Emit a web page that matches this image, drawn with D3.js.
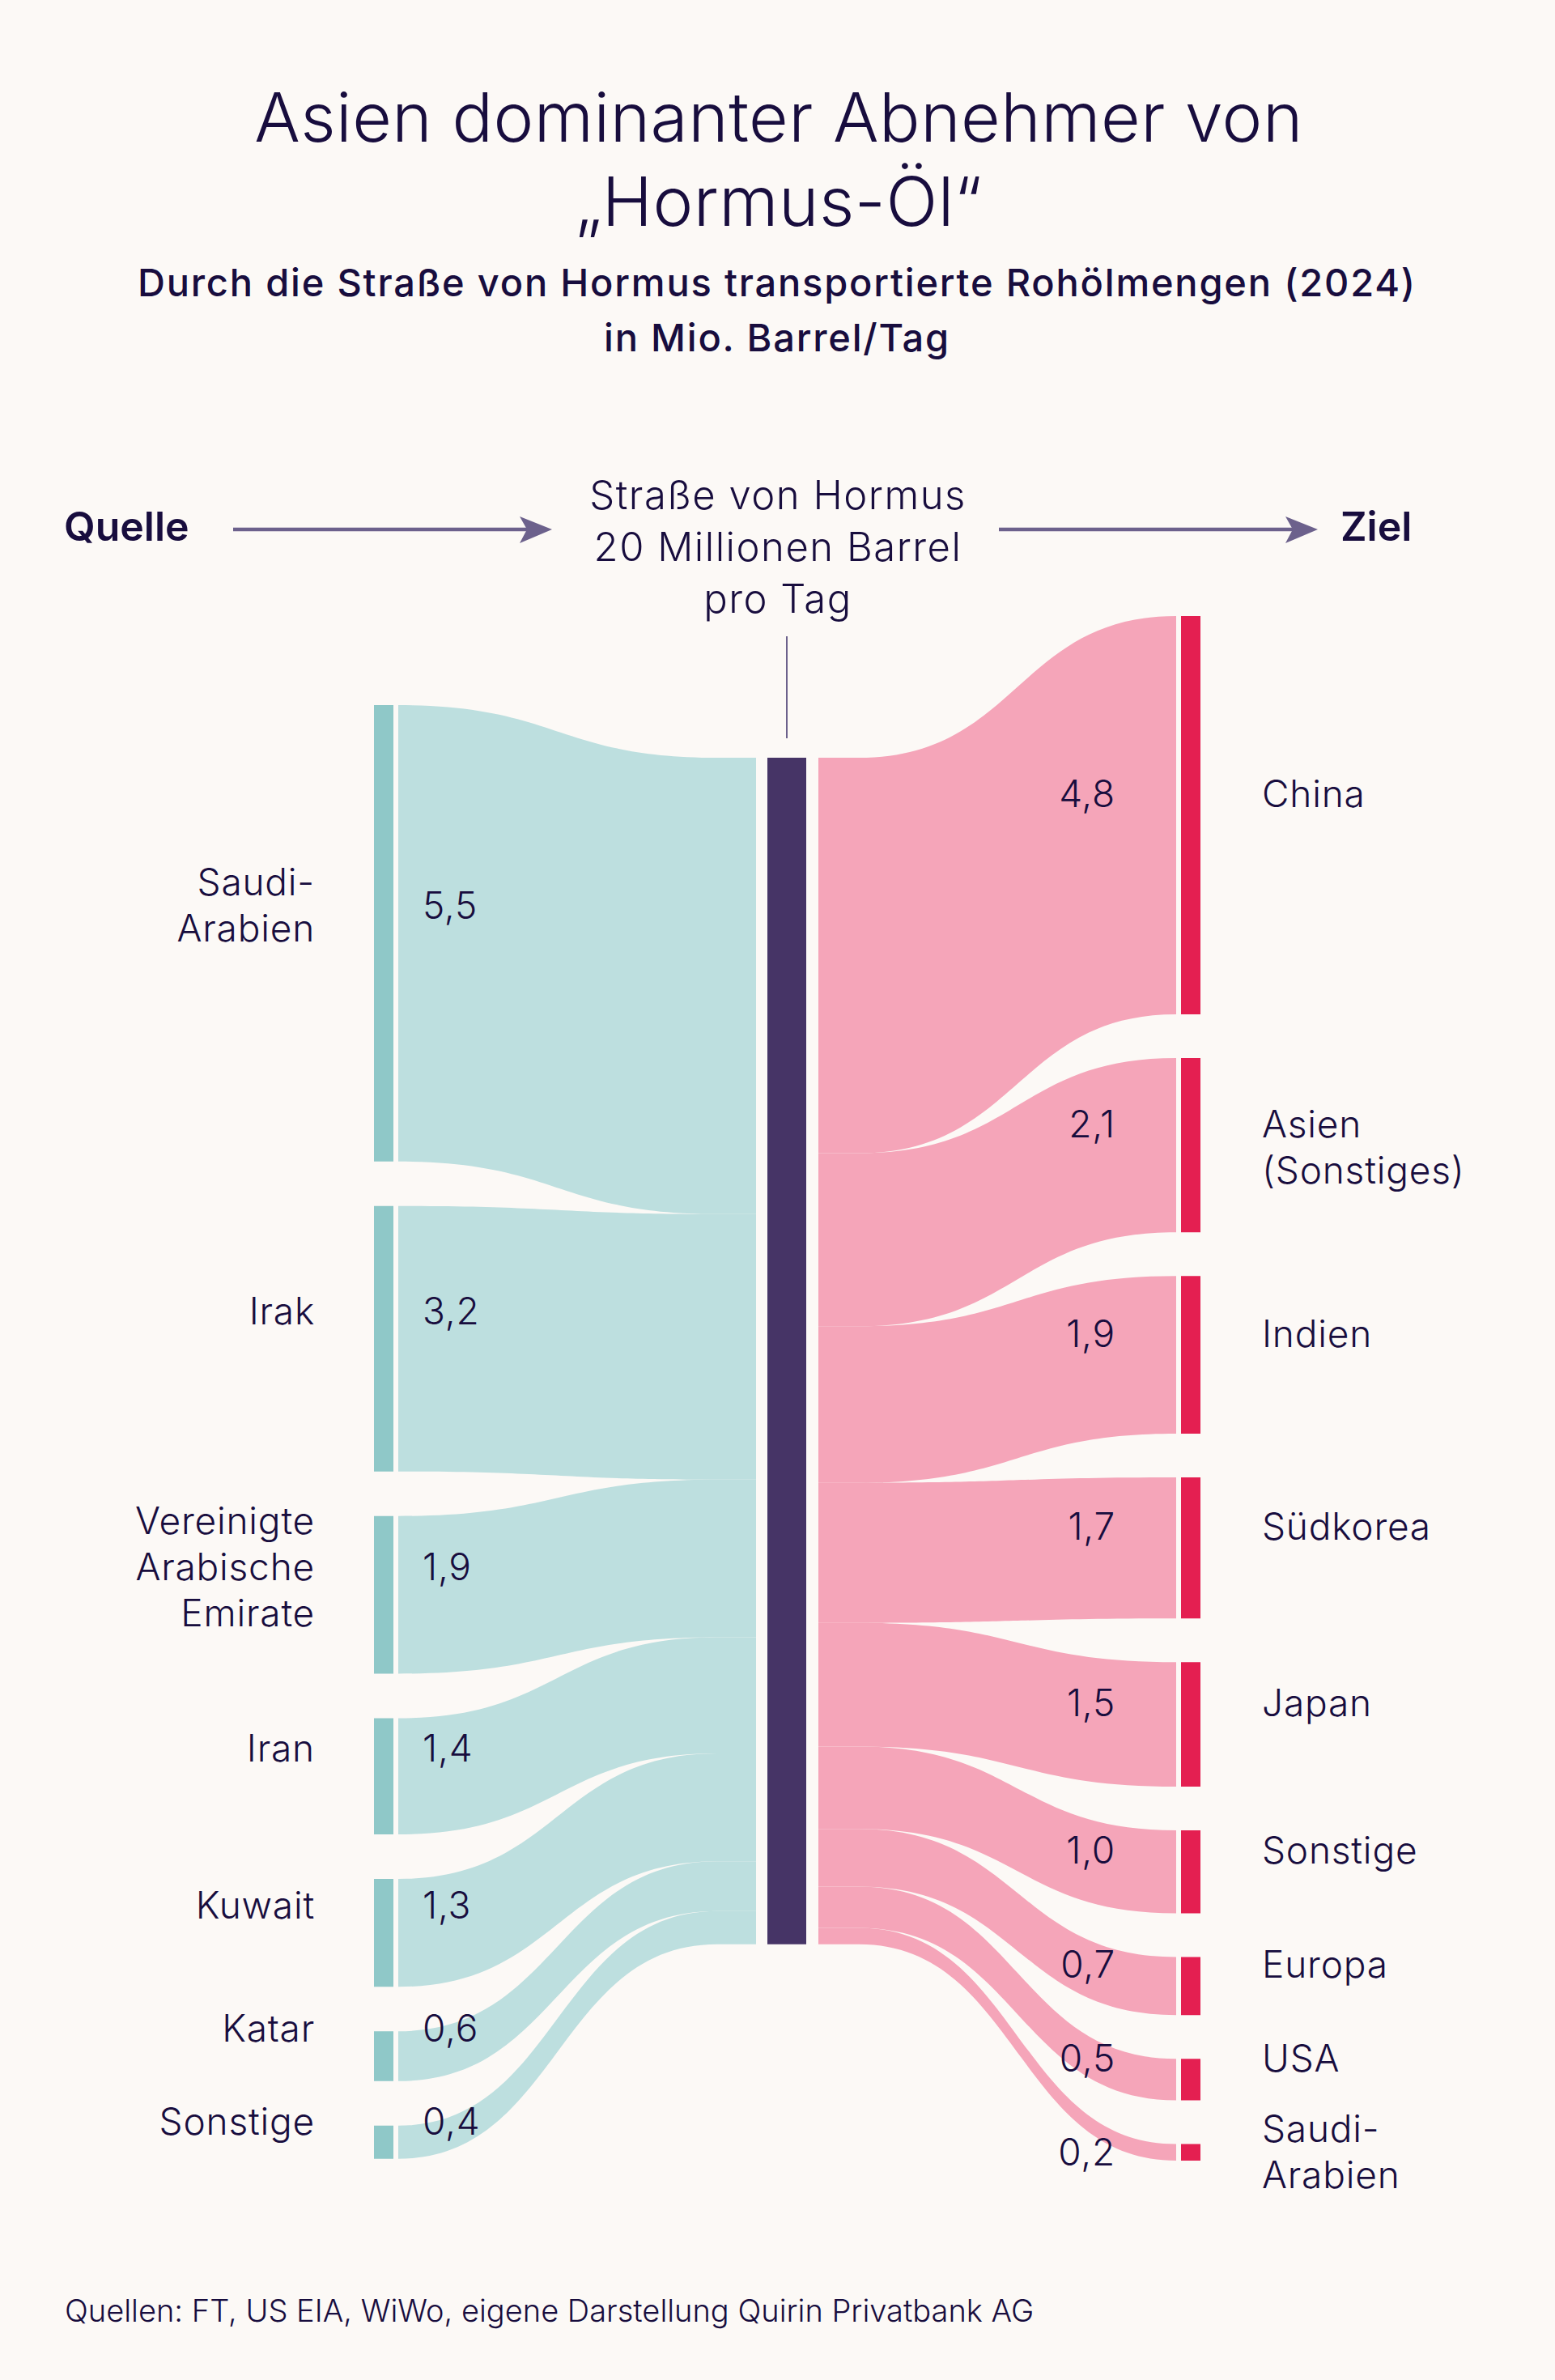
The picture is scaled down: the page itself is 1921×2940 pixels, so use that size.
<!DOCTYPE html>
<html><head><meta charset="utf-8">
<script src="https://cdn.jsdelivr.net/npm/d3@7"></script>
<style>
html,body{margin:0;padding:0;background:#fcf9f6;}
svg{display:block;}
text{font-family:Inter,"Noto Sans",sans-serif;fill:#180d3e;}
</style></head><body>
<svg id="chart" width="1921" height="2940"></svg>
<script>
// ---------- data ----------
const titleLines = ["Asien dominanter Abnehmer von", "„Hormus-Öl“"];
const subtitleLines = ["Durch die Straße von Hormus transportierte Rohölmengen (2024)", "in Mio. Barrel/Tag"];
const headerLabels = ["Quelle", "Ziel"];
const hubLines = ["Straße von Hormus", "20 Millionen Barrel", "pro Tag"];
const sourceNames = ["Saudi-\nArabien", "Irak", "Vereinigte\nArabische\nEmirate", "Iran", "Kuwait", "Katar", "Sonstige"];
const sourceValues = [5.5, 3.2, 1.9, 1.4, 1.3, 0.6, 0.4];
const targetNames = ["China", "Asien\n(Sonstiges)", "Indien", "Südkorea", "Japan", "Sonstige", "Europa", "USA", "Saudi-\nArabien"];
const targetValues = [4.8, 2.1, 1.9, 1.7, 1.5, 1.0, 0.7, 0.5, 0.2];
const footnote = "Quellen: FT, US EIA, WiWo, eigene Darstellung Quirin Privatbank AG";

// ---------- setup ----------
const svg = d3.select("#chart");
const C = {
  bg: "#fcf9f6", text: "#180d3e", arrow: "#6c618c",
  srcNode: "#8fc8c8", srcLink: "#bddfdf",
  hub: "#463466", tgtLink: "#f5a5b9", tgtNode: "#e41f51"
};
svg.append("rect").attr("width", 1921).attr("height", 2940).attr("fill", C.bg);

const fmt = d3.formatLocale({decimal: ",", thousands: ".", grouping: [3], currency: ["", "€"]}).format(".1f");
const h = d3.scaleLinear().domain([0, 1]).range([0, 102.5]);

// columns
const L = {x0: 462, x1: 486, top: 871, pad: 55};
const H = {x0: 948, x1: 996, top: 936};
const R = {x0: 1459, x1: 1483, top: 761, pad: 54};
const gap = 6;

function stack(values, top, pad) {
  let y = top;
  return values.map(v => { const n = {y0: y, y1: y + h(v), v}; y = n.y1 + pad; return n; });
}
const srcNodes = stack(sourceValues, L.top, L.pad);
const tgtNodes = stack(targetValues, R.top, R.pad);
const hubHeight = h(d3.sum(sourceValues));
const hubNode = {y0: H.top, y1: H.top + hubHeight};

// link positions at the hub (both sides fill the hub bar)
function hubStack(values) {
  const s = d3.scaleLinear().domain([0, d3.sum(values)]).range([H.top, H.top + hubHeight]);
  let acc = 0;
  return values.map(v => { const r = {y0: s(acc), y1: s(acc + v)}; acc += v; return r; });
}
const srcAtHub = hubStack(sourceValues);
const tgtAtHub = hubStack(targetValues);

// ---------- links ----------
const lx0 = L.x1 + gap, lxEnd = H.x0 - 14, lxCurve = lxEnd - 48, lmid = (lx0 + lxCurve) / 2;
svg.append("g").selectAll("path").data(sourceValues).join("path")
  .attr("fill", C.srcLink)
  .attr("d", (v, i) => {
    const s = srcNodes[i], t = srcAtHub[i];
    return `M${lx0},${s.y0} C${lmid},${s.y0} ${lmid},${t.y0} ${lxCurve},${t.y0} L${lxEnd},${t.y0} L${lxEnd},${t.y1} L${lxCurve},${t.y1} C${lmid},${t.y1} ${lmid},${s.y1} ${lx0},${s.y1} Z`;
  });

const rx0 = H.x1 + 15, rxCurve = rx0 + 50, rxEnd = R.x0 - gap, rmid = (rxCurve + rxEnd) / 2;
svg.append("g").selectAll("path").data(targetValues).join("path")
  .attr("fill", C.tgtLink)
  .attr("d", (v, i) => {
    const s = tgtAtHub[i], t = tgtNodes[i];
    return `M${rx0},${s.y0} L${rxCurve},${s.y0} C${rmid},${s.y0} ${rmid},${t.y0} ${rxEnd},${t.y0} L${rxEnd},${t.y1} C${rmid},${t.y1} ${rmid},${s.y1} ${rxCurve},${s.y1} L${rx0},${s.y1} Z`;
  });

// ---------- nodes ----------
svg.append("g").selectAll("rect").data(srcNodes).join("rect")
  .attr("x", L.x0).attr("width", L.x1 - L.x0).attr("y", d => d.y0).attr("height", d => d.y1 - d.y0).attr("fill", C.srcNode);
svg.append("g").selectAll("rect").data(tgtNodes).join("rect")
  .attr("x", R.x0).attr("width", R.x1 - R.x0).attr("y", d => d.y0).attr("height", d => d.y1 - d.y0).attr("fill", C.tgtNode);
svg.append("rect").attr("x", H.x0).attr("width", H.x1 - H.x0).attr("y", hubNode.y0).attr("height", hubNode.y1 - hubNode.y0).attr("fill", C.hub);

// ---------- labels ----------
function labelY(n, side) {
  const hh = n.y1 - n.y0;
  const off = side === "L" ? Math.min(34, Math.max(0, (hh - 25) * 1.6)) : Math.min(26, Math.max(0, (hh - 30) * 2.2));
  return (n.y0 + n.y1) / 2 - off;
}
const LBL = 46, LH = 57;
function multiline(g, text, x, yc, anchor, firstAligned) {
  const lines = text.split("\n");
  const t = g.append("text").attr("text-anchor", anchor).attr("font-size", LBL).attr("font-weight", 300)
    .attr("letter-spacing", 0.8);
  lines.forEach((ln, j) => {
    const y = firstAligned ? yc + j * LH : yc + (j - (lines.length - 1) / 2) * LH;
    t.append("tspan").attr("x", x).attr("y", y).attr("dy", "0.35em").text(ln);
  });
}
const lab = svg.append("g");
srcNodes.forEach((n, i) => {
  const yc = labelY(n, "L");
  multiline(lab, sourceNames[i], 389, yc, "end", false);
  lab.append("text").attr("x", 522).attr("y", yc).attr("dy", "0.35em").attr("font-size", LBL).attr("font-weight", 300)
    .attr("letter-spacing", 0.8).text(fmt(sourceValues[i]));
});
tgtNodes.forEach((n, i) => {
  const yc = labelY(n, "R");
  multiline(lab, targetNames[i], 1559, yc, "start", (n.y1 - n.y0) > 150);
  lab.append("text").attr("x", 1378).attr("y", yc).attr("dy", "0.35em").attr("text-anchor", "end").attr("font-size", LBL)
    .attr("font-weight", 300).attr("letter-spacing", 0.8).text(fmt(targetValues[i]));
});

// ---------- header ----------
svg.append("g").selectAll("text").data(titleLines).join("text")
  .attr("x", 962).attr("y", (d, i) => 146 + i * 104).attr("dy", "0.35em").attr("text-anchor", "middle")
  .attr("font-size", 84).attr("font-weight", 300).attr("letter-spacing", 0.5).text(d => d);
svg.append("g").selectAll("text").data(subtitleLines).join("text")
  .attr("x", 960).attr("y", (d, i) => 350 + i * 68).attr("dy", "0.35em").attr("text-anchor", "middle")
  .attr("font-size", 47).attr("font-weight", 500).attr("letter-spacing", 1.8).text(d => d);

svg.append("g").selectAll("text").data(headerLabels).join("text")
  .attr("x", (d, i) => i === 0 ? 79 : 1656).attr("y", 650).attr("dy", "0.35em")
  .attr("font-size", 50).attr("font-weight", 600).text(d => d);

svg.append("g").selectAll("text").data(hubLines).join("text")
  .attr("x", 961).attr("y", (d, i) => 612 + i * 64).attr("dy", "0.35em").attr("text-anchor", "middle")
  .attr("font-size", 49).attr("font-weight", 300).attr("letter-spacing", 1.5).text(d => d);

const arrows = [[288, 682], [1234, 1628]];
const ag = svg.append("g");
arrows.forEach(([a, b]) => {
  ag.append("line").attr("x1", a).attr("x2", b - 20).attr("y1", 654).attr("y2", 654).attr("stroke", C.arrow).attr("stroke-width", 4.5);
  ag.append("path").attr("d", `M${b},654 L${b - 40},638 L${b - 31},654 L${b - 40},671 Z`).attr("fill", C.arrow);
});
svg.append("line").attr("x1", 972).attr("x2", 972).attr("y1", 786).attr("y2", 912).attr("stroke", C.arrow).attr("stroke-width", 2);

svg.append("text").attr("x", 80).attr("y", 2855).attr("dy", "0.35em").attr("font-size", 38).attr("font-weight", 300).text(footnote);
</script>
</body></html>
